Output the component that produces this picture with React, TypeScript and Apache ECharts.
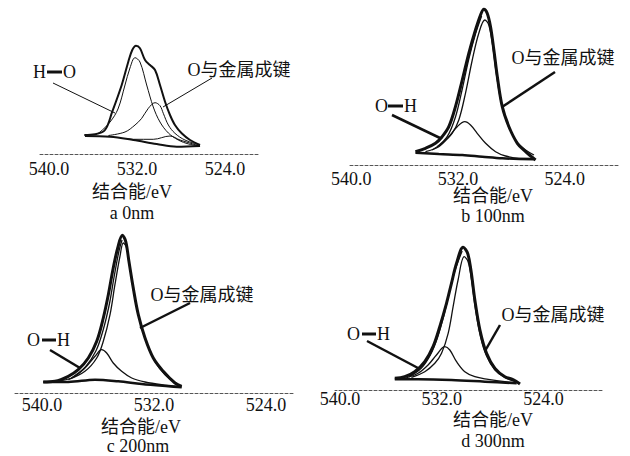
import React, { useEffect, useRef } from "react";
import * as echarts from "echarts";

// ---- data (binding energy eV, intensity in arbitrary units) ----
const tickValues = [540, 532, 524];
const captions = ["a 0nm", "b 100nm", "c 200nm", "d 300nm"];
const axisTitle = "结合能/eV";
const metalLabel = "O与金属成键";

const envA = [[536.79,19],[535.82,19.7],[534.91,24],[534.25,42.3],[533.39,69],[532.79,92.3],[532.43,104],[532.09,108.3],[531.73,105.7],[531.27,94],[530.82,89],[530.36,84],[529.91,69],[529.45,52.3],[529.0,39],[528.55,29],[527.94,20.7],[527.18,14],[526.27,9]];
const hoA = [[535.8,19.5],[535.36,22],[534.45,32],[533.73,45],[533.09,69],[532.64,86],[532.18,96.3],[531.73,92],[531.12,69],[530.52,47],[529.91,32],[529.15,21],[528.25,14],[527.3,10],[526.27,8]];
const omA = [[534.6,18.5],[533.09,22],[532.18,29],[531.57,35.7],[530.97,45.7],[530.36,51.3],[529.91,48.3],[529.61,40.7],[529.15,29],[528.55,20.7],[527.64,14],[526.27,9]];
const bgA = [[536.73,18],[534.45,17.3],[532.33,14],[530.21,10],[528.39,7.3],[526.27,8]];
const extraA = [[532.9,15.5],[532.33,14.7],[530.52,14.7],[529.0,18],[528.09,14],[526.27,8]];

const envB = [[535.19,13.3],[534.44,16.7],[533.69,21.7],[533.19,28.3],[532.69,38.3],[532.19,58.3],[531.68,85],[531.19,111.7],[530.69,135],[530.31,150],[530.06,155.7],[529.81,151.7],[529.56,138.3],[529.31,115],[529.05,88.3],[528.68,58.3],[528.18,38.3],[527.55,21.7],[526.93,13.3],[526.18,5]];
const hoB = [[534.44,13.3],[533.44,18.3],[532.69,28.3],[532.06,38.3],[531.49,43.3],[531.06,40],[530.56,31.7],[529.93,21.7],[529.18,13.3],[528.43,9],[527.43,6.7],[526.3,6.7]];
const omB = [[533.94,15],[533.19,21.7],[532.44,31.7],[531.94,45],[531.44,71.7],[530.93,105],[530.44,131.7],[529.99,145],[529.69,140],[529.39,118.3],[529.13,91.7],[528.75,61.7],[528.26,40],[527.6,23.3],[526.93,15],[526.3,10]];
const fitB = [[533.56,18.3],[532.81,28.3],[532.19,48],[531.68,76],[531.19,106],[530.69,131],[530.23,149]];
const bgB = [[535.19,12.3],[533.44,11],[531.68,10],[530.18,8.3],[528.68,6.7],[526.3,5.7]];

const envC = [[539.91,11],[539.07,11.7],[538.12,16.7],[537.41,23.3],[536.69,35],[536.09,51.7],[535.62,75],[535.26,98.3],[534.91,125],[534.59,145],[534.26,157.7],[534.02,151.7],[533.79,131.7],[533.48,105],[533.12,78.3],[532.64,55],[532.05,35],[531.34,21.7],[530.5,10],[530.02,6.7]];
const hoC = [[539.07,11.7],[537.88,15],[536.93,25],[536.21,36.7],[535.74,43.3],[535.38,40],[534.91,30],[534.31,21.7],[533.59,15],[532.64,11],[531.45,8.3],[530.26,6.7]];
const omC = [[538.12,13.3],[536.93,21.7],[536.09,35],[535.62,51.7],[535.14,78.3],[534.79,108.3],[534.43,136.7],[534.19,150],[533.95,145],[533.71,125],[533.41,98.3],[533.0,71.7],[532.52,50],[531.93,31.7],[531.21,18.3],[530.26,8.3]];
const fitC = [[537.9,15],[536.9,26],[536.15,42],[535.65,62],[535.2,88],[534.85,116],[534.5,142],[534.28,153]];
const bgC = [[539.91,11],[538.12,11],[536.21,13.3],[534.55,11.7],[532.88,9],[530.98,6.7],[530.02,5.7]];

const envD = [[535.7,11.7],[534.92,13.3],[534.13,18.3],[533.34,28.3],[532.69,43.3],[532.16,63.3],[531.63,86.7],[531.24,106.7],[530.84,126.7],[530.32,142.7],[529.97,136.7],[529.71,120],[529.4,90],[529.0,60],[528.48,36.7],[527.82,21.7],[527.04,13.3],[526.4,10.5],[525.85,6]];
const hoD = [[534.92,11.7],[533.87,16.7],[533.08,25],[532.42,35],[531.76,43.3],[531.37,40],[530.84,28.3],[530.19,18.3],[529.4,13.3],[528.35,10.7],[527.04,8.3],[526.11,7.3]];
const omD = [[534.39,12.7],[533.34,18.3],[532.55,26.7],[532.02,36.7],[531.5,56.7],[531.11,83.3],[530.72,110],[530.24,133.3],[529.93,128.3],[529.66,110],[529.34,80],[528.95,53],[528.48,34],[527.82,20],[527.04,12.5],[526.11,8]];
const fitD = [[534.6,13],[533.6,22],[532.9,35],[532.35,52],[531.85,74],[531.4,98],[530.95,120],[530.4,139]];
const bgD = [[535.7,10.7],[533.87,10.7],[531.24,10],[528.61,8.3],[526.11,6.7]];

// ---- layout / style ----
const FONT = "'Liberation Serif', 'Noto Sans CJK SC', serif";
const INK = "#111";

const panels = [
  { left: 38, top: 34, width: 220, height: 120, min: 521, max: 541, yMax: 120, margin: 7, thick: 2, thin: 1, bgW: 2,
    lines: [envA, hoA, omA, bgA, extraA], roles: ["env", "thin", "thin", "bg", "thin"],
    title: [132, 192], cap: [132, 213] },
  { left: 350, top: 5, width: 268, height: 160, min: 520, max: 540.1, yMax: 160, margin: 6, thick: 3, thin: 1.3, bgW: 2.5,
    lines: [envB, hoB, omB, fitB, bgB], roles: ["env", "thin", "thin", "thin", "bg"],
    title: [493, 196], cap: [493, 216] },
  { left: 13, top: 228, width: 280, height: 165, min: 522.07, max: 542.07, yMax: 165, margin: 4, thick: 3, thin: 1.3, bgW: 2.5,
    lines: [envC, hoC, omC, fitC, bgC], roles: ["env", "thin", "thin", "thin", "bg"],
    title: [141, 427], cap: [138, 446] },
  { left: 335, top: 240, width: 267, height: 150, min: 519.4, max: 540.4, yMax: 150, margin: 1, thick: 3, thin: 1.3, bgW: 2.5,
    lines: [envD, hoD, omD, fitD, bgD], roles: ["env", "thin", "thin", "thin", "bg"],
    title: [493, 420], cap: [493, 441] },
];

// bond labels: letters, their x, bar, y, leader line
const bondLabels = [
  { a: "H", b: "O", x1: 33, bx: 47, bw: 15, x2: 63, y: 72, line: [53, 83, 115, 113], lw: 1 },
  { a: "O", b: "H", x1: 375, bx: 388, bw: 15, x2: 404, y: 106, line: [392, 115, 440, 138], lw: 2.5 },
  { a: "O", b: "H", x1: 27, bx: 42, bw: 14, x2: 57, y: 340, line: [50, 350, 80, 368], lw: 2.5 },
  { a: "O", b: "H", x1: 347, bx: 362, bw: 14, x2: 377, y: 334, line: [367, 341, 418, 368], lw: 2.5 },
];
const metalLabels = [
  { x: 239, y: 70, line: [212, 78, 163, 107], lw: 1 },
  { x: 563, y: 58, line: [555, 72, 502, 107], lw: 2.5 },
  { x: 202, y: 295, line: [190, 303, 140, 328], lw: 2.5 },
  { x: 553, y: 315, line: [500, 325, 485, 351], lw: 2.5 },
];

function txt(text: string, x: number, y: number, align = "center", size = 18) {
  return {
    type: "text",
    x,
    y,
    style: { text, fill: INK, fontSize: size, fontFamily: FONT, align, verticalAlign: "middle", lineHeight: size - 2 },
  };
}

export default function App() {
  const ref = useRef<HTMLDivElement>(null);
  useEffect(() => {
    if (!ref.current) return;
    const chart = echarts.init(ref.current, undefined, { renderer: "svg" });

    const grid = panels.map((p) => ({ left: p.left, top: p.top, width: p.width, height: p.height, containLabel: false }));
    const xAxis = panels.map((p, i) => ({
      type: "value",
      gridIndex: i,
      min: p.min,
      max: p.max,
      inverse: true,
      splitLine: { show: false },
      axisLine: { show: true, onZero: false, lineStyle: { color: "#555", width: 1, type: [3, 2] } },
      axisTick: { show: false },
      axisLabel: {
        customValues: tickValues,
        formatter: (v: number) => v.toFixed(1),
        color: INK,
        fontSize: 18,
        lineHeight: 15,
        fontFamily: FONT,
        margin: p.margin,
        showMinLabel: true,
        showMaxLabel: true,
      },
    }));
    const yAxis = panels.map((p, i) => ({
      type: "value",
      gridIndex: i,
      min: 0,
      max: p.yMax,
      show: false,
    }));
    const series: any[] = [];
    panels.forEach((p, i) => {
      p.lines.forEach((d, j) => {
        const role = p.roles[j];
        const w = role === "env" ? p.thick : role === "bg" ? p.bgW : p.thin;
        series.push({
          type: "line",
          xAxisIndex: i,
          yAxisIndex: i,
          data: d,
          smooth: 0.35,
          showSymbol: false,
          symbol: "none",
          silent: true,
          lineStyle: { color: INK, width: w },
          z: role === "env" ? 3 : 2,
        });
      });
    });

    const graphic: any[] = [];
    panels.forEach((p, i) => {
      graphic.push(txt(axisTitle, p.title[0], p.title[1], "center", 18));
      graphic.push(txt(captions[i], p.cap[0], p.cap[1], "center", 18));
    });
    bondLabels.forEach((b) => {
      graphic.push(txt(b.a, b.x1, b.y, "left"));
      graphic.push({ type: "rect", shape: { x: b.bx, y: b.y - 1.5, width: b.bw, height: 3 }, style: { fill: INK } });
      graphic.push(txt(b.b, b.x2, b.y, "left"));
      graphic.push({
        type: "line",
        shape: { x1: b.line[0], y1: b.line[1], x2: b.line[2], y2: b.line[3] },
        style: { stroke: INK, lineWidth: b.lw },
      });
    });
    metalLabels.forEach((m) => {
      graphic.push(txt(metalLabel, m.x, m.y));
      graphic.push({
        type: "line",
        shape: { x1: m.line[0], y1: m.line[1], x2: m.line[2], y2: m.line[3] },
        style: { stroke: INK, lineWidth: m.lw },
      });
    });

    chart.setOption({
      animation: false,
      backgroundColor: "#fff",
      grid,
      xAxis,
      yAxis,
      series,
      graphic,
    });
    return () => chart.dispose();
  }, []);
  return (
    <div
      ref={ref}
      style={{ position: "fixed", left: 0, top: 0, width: 630, height: 456, background: "#fff" }}
    />
  );
}
